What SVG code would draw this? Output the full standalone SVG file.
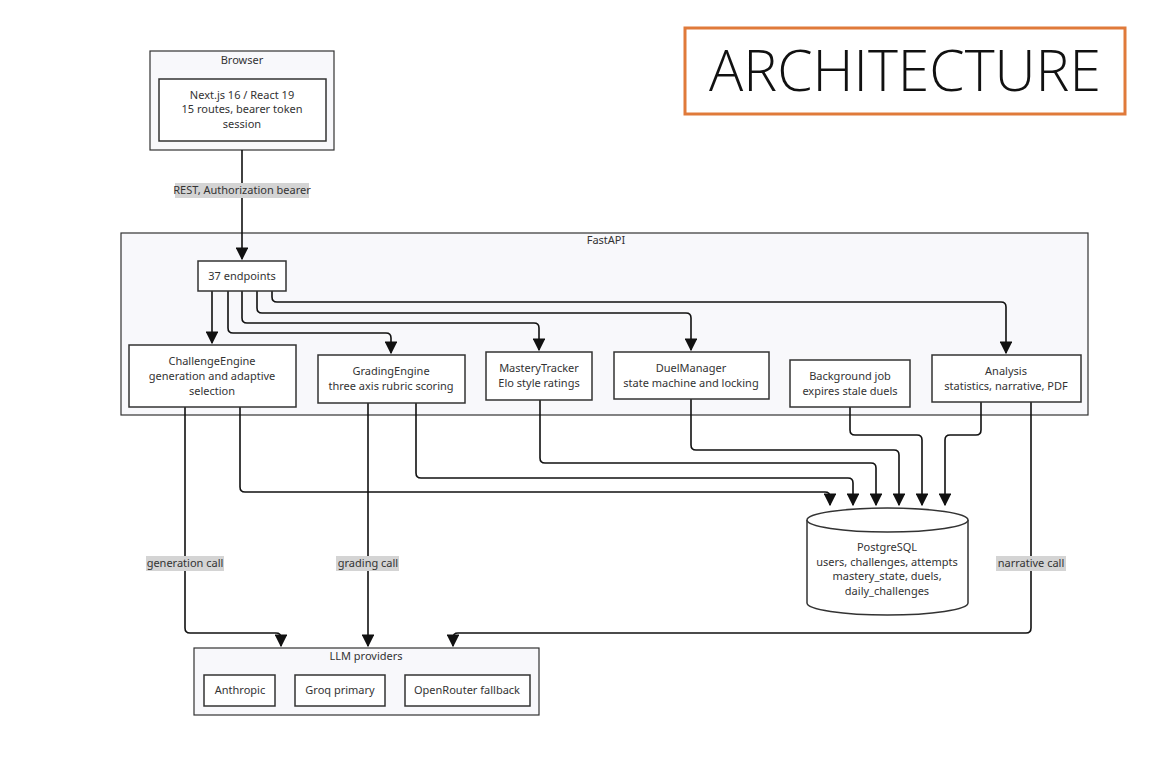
<svg xmlns="http://www.w3.org/2000/svg" width="1152" height="768" viewBox="0 0 1152 768">
<style>
text{font-family:"Noto Sans","Open Sans",sans-serif;font-size:11px;fill:#333;text-anchor:middle}
.cl{fill:#f8f8fb;stroke:#333;stroke-width:1.2}
.nd{fill:#fff;stroke:#333;stroke-width:1.5}
.e{fill:none;stroke:#111;stroke-width:1.6}
.lb{fill:#d4d4d4}
</style>
<defs><marker id="a" viewBox="0 0 10 10" refX="9" refY="5" markerWidth="8" markerHeight="8" orient="auto"><path d="M0,0L10,5L0,10z" fill="#111"/></marker></defs>
<rect width="1152" height="768" fill="#fff"/>
<g id="title"><rect x="685" y="28" width="440" height="86" fill="#fff" stroke="#e07a3a" stroke-width="3"/><text x="905" y="91" style="font-size:57px;font-family:'Open Sans',sans-serif;font-weight:300;fill:#111">ARCHITECTURE</text></g>
<g id="browser"><rect class="cl" x="150" y="51" width="184" height="99"/><text x="242" y="64">Browser</text>
<rect class="nd" x="159" y="79" width="167" height="62"/><text x="242" y="99">Next.js 16 / React 19</text><text x="242" y="113">15 routes, bearer token</text><text x="242" y="128">session</text></g>
<g id="fastapi"><rect class="cl" x="121" y="233" width="967" height="182"/><text x="606" y="244">FastAPI</text></g>
<g id="llm"><rect class="cl" x="194" y="648" width="345" height="67"/><text x="366" y="660">LLM providers</text>
<g id="anthropic"><rect class="nd" x="204" y="675" width="71" height="31"/><text x="240" y="694">Anthropic</text></g>
<g id="groq"><rect class="nd" x="295" y="675" width="90" height="31"/><text x="340" y="694">Groq primary</text></g>
<g id="openrouter"><rect class="nd" x="405" y="675" width="125" height="31"/><text x="467" y="694">OpenRouter fallback</text></g></g>
<g id="connectors">
<path class="e" marker-end="url(#a)" d="M242,150V259"/>
<path class="e" marker-end="url(#a)" d="M212,291V343"/>
<path class="e" marker-end="url(#a)" d="M228,291V328q0,5 5,5H386q5,0 5,5V353"/>
<path class="e" marker-end="url(#a)" d="M242,291V318q0,5 5,5H534q5,0 5,5V350"/>
<path class="e" marker-end="url(#a)" d="M257,291V308q0,5 5,5H686q5,0 5,5V350"/>
<path class="e" marker-end="url(#a)" d="M272,291V297q0,5 5,5H1001q5,0 5,5V353"/>
<path class="e" marker-end="url(#a)" d="M240,407V487q0,5 5,5H825q5,0 5,5V505"/>
<path class="e" marker-end="url(#a)" d="M416,403V473q0,5 5,5H848q5,0 5,5V505"/>
<path class="e" marker-end="url(#a)" d="M540,400V458q0,5 5,5H871q5,0 5,5V505"/>
<path class="e" marker-end="url(#a)" d="M691,399V445q0,5 5,5H894q5,0 5,5V505"/>
<path class="e" marker-end="url(#a)" d="M850,407V430q0,5 5,5H917q5,0 5,5V505"/>
<path class="e" marker-end="url(#a)" d="M981,402V430q0,5 -5,5H950q-5,0 -5,5V505"/>
<path class="e" marker-end="url(#a)" d="M185,407V628q0,5 5,5H276q5,0 5,5V646"/>
<path class="e" marker-end="url(#a)" d="M368,403V646"/>
<path class="e" marker-end="url(#a)" d="M1031,402V628q0,5 -5,5H458q-5,0 -5,5V646"/>
<rect class="lb" x="175" y="183" width="134" height="15"/><text x="242" y="194">REST, Authorization bearer</text>
<rect class="lb" x="146" y="556" width="78" height="15"/><text x="185" y="567">generation call</text>
<rect class="lb" x="336" y="556" width="63" height="15"/><text x="368" y="567">grading call</text>
<rect class="lb" x="996" y="556" width="70" height="15"/><text x="1031" y="567">narrative call</text>
</g>
<g id="endpoints"><rect class="nd" x="198" y="261" width="88" height="30"/><text x="242" y="280">37 endpoints</text></g>
<g id="challenge"><rect class="nd" x="129" y="345" width="167" height="62"/><text x="212" y="365">ChallengeEngine</text><text x="212" y="380">generation and adaptive</text><text x="212" y="395">selection</text></g>
<g id="grading"><rect class="nd" x="318" y="355" width="147" height="48"/><text x="391" y="375">GradingEngine</text><text x="391" y="390">three axis rubric scoring</text></g>
<g id="mastery"><rect class="nd" x="486" y="352" width="106" height="48"/><text x="539" y="372">MasteryTracker</text><text x="539" y="387">Elo style ratings</text></g>
<g id="duel"><rect class="nd" x="614" y="352" width="155" height="47"/><text x="691" y="372">DuelManager</text><text x="691" y="387">state machine and locking</text></g>
<g id="background"><rect class="nd" x="790" y="360" width="120" height="47"/><text x="850" y="380">Background job</text><text x="850" y="395">expires stale duels</text></g>
<g id="analysis"><rect class="nd" x="932" y="355" width="149" height="47"/><text x="1006" y="375">Analysis</text><text x="1006" y="390">statistics, narrative, PDF</text></g>
<g id="postgres"><path class="nd" d="M807,520a80.5,12 0 0 1 161,0V603a80.5,12 0 0 1 -161,0z"/><path class="nd" fill="none" d="M807,520a80.5,12 0 0 0 161,0"/>
<text x="887" y="551">PostgreSQL</text><text x="887" y="566">users, challenges, attempts</text><text x="887" y="580">mastery_state, duels,</text><text x="887" y="595">daily_challenges</text></g>
</svg>
